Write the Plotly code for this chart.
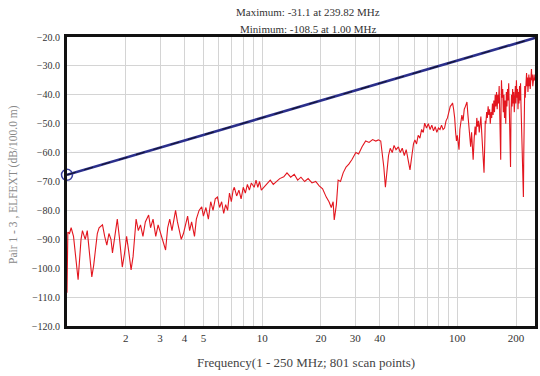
import plotly.graph_objects as go

# ---- data ----
freq_mhz = [
    1.00, 1.01, 1.03, 1.05, 1.08, 1.10, 1.14, 1.16, 1.18, 1.20, 1.24, 1.27, 1.30, 1.34, 1.37, 1.40,
    1.43, 1.46, 1.52, 1.56, 1.60, 1.64, 1.68, 1.71, 1.76, 1.81, 1.86, 1.92, 1.97, 2.02,
    2.07, 2.13, 2.18, 2.22, 2.26, 2.32, 2.38, 2.45, 2.52, 2.62, 2.68, 2.76, 2.85, 2.93, 3.02,
    3.10, 3.20, 3.28, 3.36, 3.45, 3.60, 3.68, 3.76, 3.85, 3.95, 4.05, 4.15, 4.25, 4.35, 4.50,
    4.60, 4.75, 4.90, 5.00,
    5.15, 5.30, 5.45, 5.60, 5.75, 5.90, 6.05, 6.20, 6.35, 6.50, 6.65, 6.80, 6.95, 7.10, 7.20,
    7.40, 7.60, 7.80, 8.00, 8.20, 8.40, 8.60, 8.80, 9.10, 9.30, 9.50, 9.70, 9.90, 10.2,
    10.6, 11.0, 11.4, 11.8, 12.3, 12.9, 13.4, 14.0, 14.6, 15.2, 15.8, 16.5, 17.2, 18.0, 18.8,
    19.6, 20.4, 21.3, 22.0, 22.6, 23.1, 23.4, 24.0, 24.5, 25.2, 26.0, 26.9, 27.8, 28.8, 30.2,
    31.2, 32.5, 33.9, 35.3, 36.8, 38.2, 39.4, 40.5, 41.3, 42.0, 42.8, 43.6, 44.4, 45.3, 46.4,
    47.4, 48.5, 49.9, 51.0, 52.2, 53.5, 54.7, 56.0, 57.2, 58.5, 59.6, 60.6, 61.8, 63.0, 64.3,
    65.6, 66.9, 68.0, 69.5, 71.0, 72.5, 74.0, 75.5, 77.0, 78.5, 80.0, 81.5, 83.0, 84.5, 86.0,
    87.5, 89.0, 90.5, 92.0, 93.3, 94.5, 95.7, 96.9, 98.0, 99.0, 100.0, 101.0, 102.0, 103.0, 104.0,
    105.5, 107.0, 108.5, 110.0, 111.2, 112.0, 113.3, 114.6, 115.8, 117.0, 118.3, 119.5, 120.5, 122.0,
    123.3, 124.5, 125.8, 127.0, 128.3, 129.5, 130.8, 132.0, 133.3, 134.5, 135.8, 137.0, 138.3, 139.0,
    140.0, 141.3, 142.5, 143.8, 145.0, 146.3, 147.5, 148.8, 150.0, 151.3, 152.5, 153.8, 155.0, 156.3,
    157.5, 158.8, 160.0, 161.3, 162.5, 163.8, 165.0, 166.0, 166.8, 167.5, 168.3, 169.5, 170.8, 172.0,
    173.3, 174.5, 175.8, 177.0, 178.3, 179.5, 180.8, 182.0, 183.3, 184.5, 185.5, 186.5, 187.3, 188.3,
    189.5, 190.8, 192.0, 193.3, 194.5, 195.8, 197.0, 198.3, 199.5, 200.8, 202.0, 203.3, 204.5, 205.8,
    207.0, 208.3, 209.5, 210.8, 212.0, 213.3, 214.5, 215.8, 217.0, 218.0, 219.0, 220.3, 221.5, 222.8,
    224.0, 225.3, 226.3, 227.5, 228.8, 230.0, 231.3, 232.5, 233.8, 235.0, 236.3, 237.5, 238.8, 239.82,
    241.0, 242.3, 243.5, 244.8, 246.0, 247.3, 248.5, 250.0,
]

elfext_db = [
    -108.5, -87.5, -88.0, -86.0, -89.0, -95.0, -104.0, -97.0, -90.0, -87.0, -90.0, -87.0, -95.0, -103.0, -99.0, -92.0,
    -88.0, -86.0, -85.0, -89.0, -92.0, -88.0, -90.0, -94.7, -88.0, -83.0, -90.0, -99.6, -95.0, -89.0,
    -94.0, -100.6, -96.0, -88.0, -83.0, -87.0, -85.0, -89.0, -84.0, -81.6, -86.0, -83.0, -89.0, -85.0, -88.0,
    -91.0, -93.7, -86.0, -83.0, -87.0, -80.0, -84.0, -87.0, -90.0, -88.0, -85.0, -82.0, -87.0, -84.0, -89.0,
    -83.0, -80.0, -78.8, -82.0,
    -79.0, -83.0, -77.0, -80.0, -76.0, -75.4, -79.0, -77.0, -81.0, -78.0, -80.0, -74.0, -77.0, -73.0, -72.0,
    -75.0, -73.0, -76.0, -72.0, -74.0, -71.0, -73.0, -70.5, -72.0, -69.5, -72.0, -70.0, -73.0, -72.0,
    -70.5, -69.5, -71.0, -70.0, -69.0, -68.4, -67.0, -68.5, -67.5, -69.5, -68.5, -70.0, -69.0, -70.5, -70.0,
    -71.5, -72.5, -75.4, -77.0, -79.0, -77.0, -83.3, -78.0, -69.5, -70.0, -67.0, -65.0, -64.0, -62.5, -60.0,
    -60.5, -58.0, -56.0, -56.5, -55.5, -56.0, -55.6, -56.0, -60.0, -65.0, -72.0, -66.0, -61.0, -58.5, -60.0,
    -57.5, -59.0, -58.0, -60.0, -58.5, -61.0, -59.0, -63.0, -66.0, -61.0, -57.0, -55.6, -57.0, -54.0, -55.0,
    -52.0, -53.0, -49.8, -51.5, -50.0, -52.0, -50.5, -52.5, -51.0, -53.0, -51.5, -52.0, -50.5, -52.0, -51.5,
    -49.0, -48.0, -46.0, -44.0, -43.5, -42.8, -45.0, -48.0, -53.0, -56.0, -54.0, -57.0, -59.0, -52.0, -50.0,
    -47.0, -49.0, -45.0, -44.0, -43.0, -42.5, -47.0, -52.0, -55.0, -58.0, -53.0, -59.0, -62.5, -55.0,
    -51.0, -54.0, -48.0, -51.0, -49.0, -53.0, -50.0, -47.5, -53.0, -58.0, -62.0, -67.0, -56.0, -49.0,
    -50.0, -46.0, -48.0, -44.0, -47.0, -45.0, -50.0, -46.0, -48.0, -43.0, -47.0, -42.0, -46.0, -40.0,
    -44.0, -39.0, -45.0, -40.0, -43.0, -37.0, -48.0, -55.0, -62.5, -45.0, -35.0, -41.0, -38.0, -46.0,
    -40.0, -48.0, -42.0, -50.0, -39.0, -44.0, -38.0, -42.0, -36.0, -44.0, -52.0, -60.0, -65.0, -47.0,
    -40.0, -44.0, -38.0, -43.0, -39.0, -46.0, -40.0, -37.0, -43.0, -35.0, -41.0, -38.0, -45.0, -39.0,
    -43.0, -37.0, -42.0, -36.0, -44.0, -50.0, -58.0, -66.0, -72.0, -75.4, -60.0, -45.0, -37.0, -41.0,
    -35.0, -38.0, -32.5, -37.0, -34.0, -39.0, -35.0, -33.0, -37.0, -34.0, -38.0, -33.0, -35.0, -31.1,
    -35.0, -33.0, -37.0, -34.0, -36.0, -33.0, -35.0, -34.0,
]

limit_freq = [1.0, 250.0]
limit_db = [-67.7, -20.3]

x_tick_vals = [2, 3, 4, 5, 6, 7, 8, 9, 10, 20, 30, 40, 50, 60, 70, 80, 90, 100, 200]
x_tick_text = ["2", "3", "4", "5", "", "", "", "", "10", "20", "30", "40", "", "", "", "", "", "100", "200"]
y_tick_vals = [-20, -30, -40, -50, -60, -70, -80, -90, -100, -110, -120]

title_max = "Maximum: -31.1 at 239.82 MHz"
title_min = "Minimum: -108.5 at 1.00 MHz"
x_title = "Frequency(1 - 250 MHz; 801 scan points)"
y_title = "Pair 1 - 3 , ELFEXT (dB/100.0 m)"

SERIF = "Liberation Serif, Times New Roman, serif"

fig = go.Figure()
fig.add_trace(go.Scatter(x=freq_mhz, y=elfext_db, mode="lines",
                         line=dict(color="#e3161f", width=1.1), showlegend=False,
                         hoverinfo="skip"))
fig.add_trace(go.Scatter(x=limit_freq, y=limit_db, mode="lines+markers",
                         line=dict(color="#2b2f8c", width=2.6),
                         marker=dict(symbol="circle-open", size=11, color="#3a3f9e",
                                     line=dict(width=1.5)),
                         cliponaxis=False, showlegend=False))
fig.add_trace(go.Scatter(x=limit_freq, y=limit_db, mode="lines",
                         line=dict(color="#15152e", width=1.1, dash="dash"),
                         showlegend=False))

fig.update_layout(
    width=540, height=376,
    margin=dict(l=67, r=2, t=37, b=50),
    paper_bgcolor="white", plot_bgcolor="white",
    font=dict(family=SERIF, size=10, color="#333333"),
    xaxis=dict(type="log", range=[0, 2.3979], tickvals=x_tick_vals, ticktext=x_tick_text,
               showgrid=True, gridcolor="#d4d4d4", gridwidth=1, zeroline=False,
               showline=True, linecolor="#111111", linewidth=3, mirror=True,
               ticks="", tickfont=dict(family=SERIF, size=11, color="#333333")),
    yaxis=dict(range=[-120, -20], tickvals=y_tick_vals, tickformat=".1f",
               showgrid=True, gridcolor="#d4d4d4", gridwidth=1, zeroline=False,
               showline=True, linecolor="#111111", linewidth=3, mirror=True,
               ticks="", ticklabelstandoff=2,
               tickfont=dict(family=SERIF, size=10, color="#333333")),
    annotations=[
        dict(text=title_max, xref="paper", yref="paper", x=0.515, y=1.0, yshift=25,
             yanchor="middle", showarrow=False,
             font=dict(family=SERIF, size=11, color="#333333")),
        dict(text=title_min, xref="paper", yref="paper", x=0.515, y=1.0, yshift=8,
             yanchor="middle", showarrow=False,
             font=dict(family=SERIF, size=11, color="#333333")),
        dict(text=x_title, xref="paper", yref="paper", x=0.51, y=0, yshift=-36,
             yanchor="middle", showarrow=False,
             font=dict(family=SERIF, size=13, color="#444444")),
        dict(text=y_title, xref="paper", yref="paper", x=0, xshift=-53, y=0.488,
             xanchor="center", textangle=-90, showarrow=False,
             font=dict(family=SERIF, size=11.5, color="#888888")),
    ],
)

# remove the browser's default 8px body margin so the figure fills the window
fig.write_html("out.html", config={"displayModeBar": False},
               post_script="document.body.style.margin='0';document.body.style.overflow='hidden';")
